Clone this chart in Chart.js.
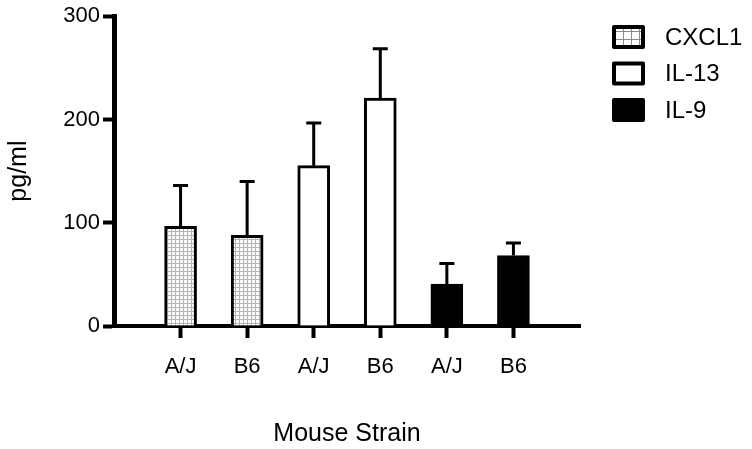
<!DOCTYPE html>
<html><head><meta charset="utf-8">
<script src="https://cdn.jsdelivr.net/npm/chart.js@4"></script>
<style>html,body{margin:0;padding:0;background:#fff;overflow:hidden;}</style>
</head><body>
<canvas id="c" width="752" height="449"></canvas>
<script>
// ---- data ----
const strains = ['A/J', 'B6'];
const seriesNames = ['CXCL1', 'IL-13', 'IL-9'];
const cxcl1Mean = [96.5, 87.8];
const cxcl1Sem = [39.5, 52.1];
const il13Mean = [155.3, 220.6];
const il13Sem = [41.2, 47.9];
const il9Mean = [40.5, 68.2];
const il9Sem = [20.0, 12.2];
const xTickLabels = ['A/J', 'B6', 'A/J', 'B6', 'A/J', 'B6'];
const yTicks = [0, 100, 200, 300];
const xAxisTitle = 'Mouse Strain';
const yAxisTitle = 'pg/ml';

// ---- styling helpers ----
Chart.defaults.font.family = "'Liberation Sans', Arial, sans-serif";
Chart.defaults.color = '#000';
const canvas = document.getElementById('c');
const ctx0 = canvas.getContext('2d');
function makeGrid(cell, color) {
  const c = document.createElement('canvas');
  c.width = cell; c.height = cell;
  const g = c.getContext('2d');
  g.fillStyle = '#fff'; g.fillRect(0, 0, cell, cell);
  g.fillStyle = color;
  g.fillRect(cell - 1, 0, 1, cell);
  g.fillRect(0, cell - 1, cell, 1);
  return ctx0.createPattern(c, 'repeat');
}
const barGrid = makeGrid(4, '#b4b4b4');
const legendGrid = makeGrid(8, '#8a8a8a');

const means = [cxcl1Mean, il13Mean, il9Mean];
const sems = [cxcl1Sem, il13Sem, il9Sem];
const fills = [barGrid, '#ffffff', '#000000'];
const legendFills = [legendGrid, '#ffffff', '#000000'];

const datasets = seriesNames.map((name, s) => ({
  label: name,
  data: strains.map((st, j) => ({ x: s * strains.length + j + 1, y: means[s][j] })),
  sem: sems[s],
  backgroundColor: fills[s],
  borderColor: '#000',
  borderWidth: 3,
  grouped: false,
  barThickness: 32
}));

const errorBars = {
  id: 'errorBars',
  afterDatasetsDraw(chart) {
    const ctx = chart.ctx, xs = chart.scales.x, ys = chart.scales.y;
    ctx.save();
    ctx.strokeStyle = '#000';
    ctx.lineWidth = 3;
    chart.data.datasets.forEach(ds => {
      ds.data.forEach((p, j) => {
        const x = xs.getPixelForValue(p.x);
        const y0 = ys.getPixelForValue(p.y);
        const y1 = ys.getPixelForValue(p.y + ds.sem[j]);
        ctx.beginPath();
        ctx.moveTo(x, y0); ctx.lineTo(x, y1);
        ctx.moveTo(x - 7.5, y1); ctx.lineTo(x + 7.5, y1);
        ctx.stroke();
      });
    });
    ctx.restore();
  }
};

const customLegend = {
  id: 'customLegend',
  afterDraw(chart) {
    const ctx = chart.ctx;
    ctx.save();
    chart.data.datasets.forEach((ds, i) => {
      const cy = 37 + i * 36.5;
      const bx = 612, bw = 33, bh = 24;
      ctx.fillStyle = legendFills[i];
      ctx.fillRect(bx + 2, cy - bh / 2 + 2, bw - 4, bh - 4);
      ctx.lineWidth = 4;
      ctx.lineJoin = 'round';
      ctx.strokeStyle = '#000';
      ctx.strokeRect(bx + 2, cy - bh / 2 + 2, bw - 4, bh - 4);
      ctx.fillStyle = '#000';
      ctx.font = "24px 'Liberation Sans', Arial, sans-serif";
      ctx.textBaseline = 'middle';
      ctx.textAlign = 'left';
      ctx.fillText(ds.label, 665, cy + 1);
    });
    ctx.restore();
  }
};

new Chart(canvas, {
  type: 'bar',
  data: { datasets },
  options: {
    responsive: false,
    animation: false,
    devicePixelRatio: 1,
    layout: { padding: { left: 0, top: 15, right: 172, bottom: 0 } },
    plugins: { legend: { display: false }, tooltip: { enabled: false } },
    scales: {
      x: {
        type: 'linear', min: 0, max: 7, offset: false, z: 1,
        afterBuildTicks: s => { s.ticks = xTickLabels.map((_, i) => ({ value: i + 1 })); },
        ticks: {
          autoSkip: false, maxRotation: 0, padding: 16, color: '#000',
          font: { size: 22 },
          callback: v => xTickLabels[v - 1]
        },
        grid: { display: true, drawOnChartArea: false, drawTicks: true, tickLength: 12, tickWidth: 4, tickColor: '#000', offset: false },
        border: { display: true, color: '#000', width: 4 },
        title: { display: true, text: xAxisTitle, color: '#000', font: { size: 25 }, padding: { top: 0, bottom: 0 } },
        afterFit: s => { s.height = 123; }
      },
      y: {
        min: 0, max: 300, z: 1, position: 'left',
        afterBuildTicks: s => { s.ticks = yTicks.map(v => ({ value: v })); },
        ticks: { padding: 3, color: '#000', font: { size: 22 } },
        grid: { display: true, drawOnChartArea: false, drawTicks: true, tickLength: 11, tickWidth: 4, tickColor: '#000' },
        border: { display: true, color: '#000', width: 5 },
        title: { display: true, text: yAxisTitle, color: '#000', font: { size: 25 }, padding: { top: 4, bottom: 0 } },
        afterFit: s => { s.width = 114; }
      }
    }
  },
  plugins: [errorBars, customLegend]
});
</script>
</body></html>
